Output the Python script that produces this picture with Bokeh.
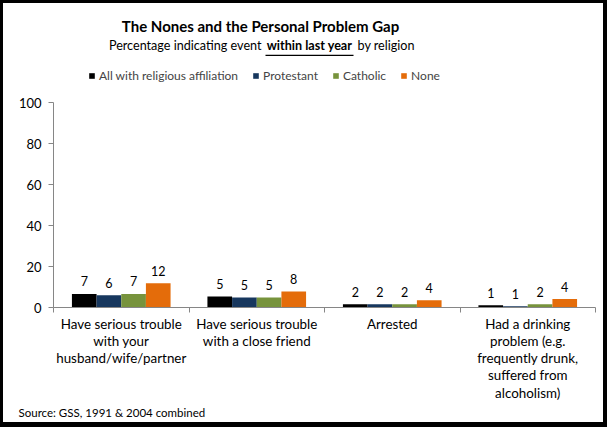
from bokeh.plotting import figure
from bokeh.models import (ColumnDataSource, Range1d, FixedTicker, Legend, LegendItem,
                          Label, BoxAnnotation, Title)
from bokeh.core.properties import value
from bokeh.embed import file_html
from bokeh.resources import INLINE

categories = ["Have serious trouble\nwith your\nhusband/wife/partner",
              "Have serious trouble\nwith a close friend",
              "Arrested",
              "Had a drinking\nproblem (e.g.\nfrequently drunk,\nsuffered from\nalcoholism)"]
series = ["All with religious affiliation", "Protestant", "Catholic", "None"]
all_affil = [6.6, 5.4, 1.6, 1.1]
protestant = [6.0, 4.9, 1.6, 0.6]
catholic = [6.6, 4.9, 1.6, 1.6]
none = [11.8, 7.8, 3.6, 4.1]
y_ticks = [0, 20, 40, 60, 80, 100]

title = "The Nones and the Personal Problem Gap"
subtitle_parts = ["Percentage indicating event", "within last year", "by religion"]
source_note = "Source: GSS, 1991 & 2004 combined"

colors = ["#000000", "#17375E", "#77933C", "#E46C0A"]
FONT = "Lato"

# canvas 607 x 427, black border (3 left/top, 4 right, 5 bottom) drawn outside it
CANVAS_W, CANVAS_H = 607, 427
FRAME_BOTTOM = 304          # canvas px of value 0
PX_PER_UNIT = 2.046
y_top = FRAME_BOTTOM / PX_PER_UNIT

p = figure(width=CANVAS_W, height=CANVAS_H, output_backend="svg", toolbar_location=None,
           tools="", x_range=Range1d(0, 4), y_range=Range1d(0, y_top),
           min_border_left=50, min_border_right=15, min_border_top=0,
           min_border_bottom=CANVAS_H - FRAME_BOTTOM)
p.styles = {"border-style": "solid", "border-color": "black",
            "border-width": "3px 4px 5px 3px"}
p.outline_line_color = None
p.xgrid.visible = False
p.ygrid.visible = False

bar_w = 0.182
items = []
for k, (name, vals) in enumerate(zip(series, [all_affil, protestant, catholic, none])):
    xs = [i + 0.5 + (k - 1.5) * bar_w for i in range(len(vals))]
    src = ColumnDataSource(dict(x=xs, top=vals, lab=[f"{round(v)}" for v in vals]))
    r = p.vbar(x="x", top="top", width=bar_w, bottom=0, source=src,
               fill_color=colors[k], line_color=None)
    p.text(x="x", y="top", text="lab", source=src, text_align="center",
           text_baseline="middle", y_offset=-12.5, text_font=value(FONT),
           text_font_size="12.5px", text_color="#000000")
    items.append(LegendItem(label=name, renderers=[r]))

ya = p.yaxis[0]
ya.ticker = FixedTicker(ticks=y_ticks)
ya.bounds = (0, 100)
ya.axis_line_color = "#868686"
ya.major_tick_line_color = "#868686"
ya.major_tick_out = 5
ya.major_tick_in = 0
ya.minor_tick_line_color = None
ya.major_label_text_font = FONT
ya.major_label_text_font_size = "13px"
ya.major_label_text_color = "#000000"
ya.major_label_standoff = 7

xa = p.xaxis[0]
xa.ticker = FixedTicker(ticks=[0.5, 1.5, 2.5, 3.5], minor_ticks=[0, 1, 2, 3, 4])
xa.major_label_overrides = {i + 0.5: c for i, c in enumerate(categories)}
xa.axis_line_color = "#868686"
xa.major_tick_line_color = None
xa.major_tick_out = 0
xa.major_tick_in = 0
xa.minor_tick_line_color = "#868686"
xa.minor_tick_out = 5
xa.minor_tick_in = 0
xa.major_label_text_font = FONT
xa.major_label_text_font_size = "13.4px"
xa.major_label_text_color = "#000000"
xa.major_label_standoff = 3
xa.major_label_text_line_height = 1.08

legend = Legend(items=items, orientation="horizontal", location=(35, 224),
                glyph_width=7, glyph_height=7, label_standoff=4, spacing=14,
                padding=0, margin=0, label_text_font=FONT,
                label_text_font_size="12px", label_height=14,
                border_line_color=None, background_fill_alpha=0)
p.add_layout(legend, "center")


def lab(text, x, y, size, style="normal", align="center"):
    p.add_layout(Label(x=x, y=y, x_units="canvas", y_units="canvas", text=text,
                       text_font=FONT, text_font_size=size, text_font_style=style,
                       text_align=align, text_baseline="middle", text_color="#000000"))


lab(title, 254, 19, "15px", "bold")
lab(subtitle_parts[0], 255, 39, "12.6px", align="right")
lab(subtitle_parts[1], 303, 39, "12.6px", "bold")
lab(subtitle_parts[2], 351, 39, "12.6px", align="left")
p.add_layout(BoxAnnotation(left=259, right=347, top=48.3, bottom=49.6,
                           left_units="canvas", right_units="canvas",
                           top_units="canvas", bottom_units="canvas",
                           fill_color="#000000", fill_alpha=1, line_color=None,
                           line_alpha=0))

p.add_layout(Title(text=source_note, align="left", offset=-35, standoff=0,
                   text_font=FONT, text_font_size="11.5px", text_font_style="normal",
                   text_color="#000000"), "below")

open("out.html", "w").write(file_html(p, INLINE))
